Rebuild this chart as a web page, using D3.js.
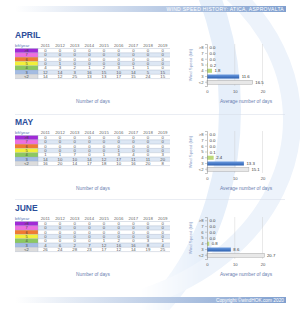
<!DOCTYPE html>
<html>
<head>
<meta charset="utf-8">
<script src="https://cdn.jsdelivr.net/npm/d3@7"></script>
<style>
  body { margin: 0; background: #fff; }
  svg { display: block; font-family: "Liberation Sans", Arial, sans-serif; }
</style>
</head>
<body>
<div id="chart"></div>
<script>
// ---- data ----
const years = ["2011", "2012", "2013", "2014", "2015", "2016", "2017", "2018", "2019"];
const bftLabels = [">8", "7", "6", "5", "4", "3", "<2"];
const bftColors = ["#a02ad6", "#ee6ee0", "#f07a32", "#f2f03a", "#8cc860", "#a4bce2", "#dcdcdc"];
const barColors = ["#a02ad6", "#ee6ee0", "#f07a32", "#e8e24a", "#bcd97a", "#3b74c4", "#e8e8e8"];
const months = ["APRIL", "MAY", "JUNE"];

// days per bft row (rows = bftLabels, columns = years)
const aprilDays = [
  [0, 0, 0, 0, 0, 0, 0, 0, 0],
  [0, 0, 0, 0, 0, 0, 0, 0, 0],
  [0, 0, 0, 0, 0, 0, 0, 0, 0],
  [0, 1, 0, 0, 0, 0, 0, 0, 0],
  [4, 3, 2, 1, 2, 3, 1, 1, 0],
  [12, 14, 3, 16, 15, 10, 14, 5, 15],
  [14, 12, 25, 13, 13, 17, 15, 24, 15]
];
const mayDays = [
  [0, 0, 0, 0, 0, 0, 0, 0, 0],
  [0, 0, 0, 0, 0, 0, 0, 0, 0],
  [0, 0, 0, 0, 0, 0, 0, 0, 0],
  [0, 0, 0, 0, 0, 1, 0, 0, 0],
  [1, 1, 7, 0, 1, 3, 4, 0, 3],
  [14, 10, 10, 14, 12, 17, 11, 11, 20],
  [16, 20, 14, 17, 18, 10, 16, 20, 8]
];
const juneDays = [
  [0, 0, 0, 0, 0, 0, 0, 0, 0],
  [0, 0, 0, 0, 0, 0, 0, 0, 0],
  [0, 0, 0, 0, 0, 0, 0, 0, 0],
  [0, 0, 0, 0, 0, 0, 0, 0, 0],
  [0, 0, 0, 0, 1, 2, 0, 3, 1],
  [4, 6, 2, 7, 12, 16, 16, 8, 4],
  [26, 24, 28, 23, 17, 12, 14, 19, 25]
];
const aprilAvg = [0.0, 0.0, 0.0, 0.2, 1.8, 11.6, 16.5];
const mayAvg = [0.0, 0.0, 0.0, 0.1, 2.4, 13.3, 15.1];
const juneAvg = [0.0, 0.0, 0.0, 0.0, 0.8, 8.6, 20.7];
const avgTicks = [0, 10, 20];

const sections = [
  {name: months[0], days: aprilDays, avg: aprilAvg},
  {name: months[1], days: mayDays, avg: mayAvg},
  {name: months[2], days: juneDays, avg: juneAvg}
];

const W = 300, H = 310;
const svg = d3.select("#chart").append("svg").attr("width", W).attr("height", H);
const defs = svg.append("defs");

// gradients
const band = defs.append("linearGradient").attr("id", "band");
band.append("stop").attr("offset", "0%").attr("stop-color", "#ffffff");
band.append("stop").attr("offset", "100%").attr("stop-color", "#7f9fcf");
const blueBar = defs.append("linearGradient").attr("id", "blueBar").attr("x2", 0).attr("y2", 1);
blueBar.append("stop").attr("offset", "0%").attr("stop-color", "#6b9be0");
blueBar.append("stop").attr("offset", "100%").attr("stop-color", "#2b5fb0");

// fade mask so the swoosh only shows on the right side
const fade = defs.append("linearGradient").attr("id", "fade")
  .attr("gradientUnits", "userSpaceOnUse").attr("x1", 140).attr("x2", 200).attr("y1", 0).attr("y2", 0);
fade.append("stop").attr("offset", "0%").attr("stop-color", "#000");
fade.append("stop").attr("offset", "100%").attr("stop-color", "#fff");
defs.append("mask").attr("id", "swooshMask")
  .append("rect").attr("width", W).attr("height", H).attr("fill", "url(#fade)");

// decorative swoosh
const swoosh = svg.append("g").attr("fill", "none").attr("mask", "url(#swooshMask)");
swoosh.append("ellipse").attr("cx", 40).attr("cy", 110).attr("rx", 190).attr("ry", 250)
  .attr("stroke", "#e6effa").attr("stroke-width", 22);
swoosh.append("ellipse").attr("cx", 60).attr("cy", 120).attr("rx", 232).attr("ry", 190)
  .attr("stroke", "#edf3fb").attr("stroke-width", 18);

// header and footer bands
svg.append("rect").attr("x", 15).attr("y", 6).attr("width", 271).attr("height", 6).attr("fill", "url(#band)");
svg.append("text").attr("x", 284).attr("y", 10.6).attr("text-anchor", "end")
  .attr("font-size", 5).attr("fill", "#fff").attr("letter-spacing", 0.3)
  .text("WIND SPEED HISTORY: ATICA, ASPROVALTA");
svg.append("rect").attr("x", 15).attr("y", 297).attr("width", 271).attr("height", 6).attr("fill", "url(#band)");
svg.append("text").attr("x", 284).attr("y", 301.6).attr("text-anchor", "end")
  .attr("font-size", 4.8).attr("fill", "#fff")
  .text("Copyright ©windHOK.com 2020");

// section separators
svg.selectAll(".sep").data([114.5, 199.5]).join("line")
  .attr("x1", 15).attr("x2", 285).attr("y1", d => d).attr("y2", d => d)
  .attr("stroke", "#d4dbe6").attr("stroke-width", 0.5);

const col = d3.scaleBand().domain(years).range([38, 170]);
const rowH = 4.3;

sections.forEach((s, si) => {
  const tb = [38, 125, 211][si];
  const g = svg.append("g");

  g.append("text").attr("x", 15).attr("y", tb).attr("font-size", 8.5).attr("font-weight", "bold")
    .attr("fill", "#2c4e9a").text(s.name);

  // table
  const row = d3.scaleBand().domain(bftLabels).range([tb + 10.5, tb + 10.5 + rowH * 7]);
  g.append("text").attr("x", 15).attr("y", tb + 9).attr("font-size", 4.3).attr("fill", "#5a78b8").text("bft/year");
  g.selectAll(".yr").data(years).join("text")
    .attr("x", d => col(d) + col.bandwidth() / 2).attr("y", tb + 9)
    .attr("text-anchor", "middle").attr("font-size", 4.3).attr("fill", "#666").text(d => d);

  g.selectAll(".rowbg").data(bftLabels).join("rect")
    .attr("x", 38).attr("y", d => row(d)).attr("width", 132).attr("height", row.bandwidth())
    .attr("fill", (d, i) => i % 2 ? "#dde7f4" : "#ffffff");
  g.selectAll(".bft").data(bftLabels).join("rect")
    .attr("x", 15).attr("y", d => row(d)).attr("width", 23).attr("height", row.bandwidth())
    .attr("fill", (d, i) => bftColors[i]);
  g.selectAll(".bftl").data(bftLabels).join("text")
    .attr("x", 26.5).attr("y", d => row(d) + row.bandwidth() / 2 + 1.5)
    .attr("text-anchor", "middle").attr("font-size", 4).attr("fill", "#444").text(d => d);
  g.selectAll(".hl").data(d3.range(8)).join("line")
    .attr("x1", 15).attr("x2", 170)
    .attr("y1", i => tb + 10.5 + i * rowH).attr("y2", i => tb + 10.5 + i * rowH)
    .attr("stroke", "#9aa8c0").attr("stroke-width", 0.35);
  g.append("line").attr("x1", 38).attr("x2", 38).attr("y1", tb + 10.5).attr("y2", tb + 10.5 + rowH * 7)
    .attr("stroke", "#9aa8c0").attr("stroke-width", 0.35);

  s.days.forEach((vals, ri) => {
    g.selectAll(".c" + ri).data(vals).join("text")
      .attr("x", (d, i) => col(years[i]) + col.bandwidth() / 2)
      .attr("y", row(bftLabels[ri]) + row.bandwidth() / 2 + 1.5)
      .attr("text-anchor", "middle").attr("font-size", 4.3).attr("fill", "#555").text(d => d);
  });

  g.append("text").attr("x", 93).attr("y", tb + 65).attr("text-anchor", "middle")
    .attr("font-size", 4.8).attr("fill", "#6a80b0").text("Number of days");

  // average bar chart
  const x = d3.scaleLinear().domain([0, 20]).range([207, 262.5]);
  const y = d3.scaleBand().domain(bftLabels).range([tb + 6, tb + 48]).padding(0.3);

  g.selectAll(".grid").data(avgTicks.slice(1)).join("line")
    .attr("x1", d => x(d)).attr("x2", d => x(d)).attr("y1", tb + 6).attr("y2", tb + 48)
    .attr("stroke", "#c8c8c8").attr("stroke-width", 0.4);

  g.selectAll(".bar").data(s.avg).join("rect")
    .attr("x", x(0)).attr("y", (d, i) => y(bftLabels[i]))
    .attr("width", d => x(d) - x(0)).attr("height", y.bandwidth())
    .attr("fill", (d, i) => i === 5 ? "url(#blueBar)" : barColors[i])
    .attr("stroke", (d, i) => i === 6 ? "#999" : "none").attr("stroke-width", 0.4);

  g.selectAll(".val").data(s.avg).join("text")
    .attr("x", d => x(d) + 2.5).attr("y", (d, i) => y(bftLabels[i]) + y.bandwidth() / 2 + 1.5)
    .attr("font-size", 4.3).attr("fill", "#333").text(d => d.toFixed(1));

  const ya = g.append("g").attr("transform", `translate(${x(0)},0)`)
    .call(d3.axisLeft(y).tickSize(2).tickPadding(1.5));
  ya.select(".domain").attr("stroke", "#888").attr("stroke-width", 0.5);
  ya.selectAll(".tick line").attr("stroke", "#888").attr("stroke-width", 0.4);
  ya.selectAll("text").attr("font-size", 4.2).attr("fill", "#555").attr("font-family", null);

  const xa = g.append("g").attr("transform", `translate(0,${tb + 48})`)
    .call(d3.axisBottom(x).tickValues(avgTicks).tickSize(0).tickPadding(4));
  xa.select(".domain").remove();
  xa.selectAll("text").attr("font-size", 4.2).attr("fill", "#555").attr("font-family", null);

  g.append("text").attr("transform", `translate(192,${tb + 27}) rotate(-90)`)
    .attr("text-anchor", "middle").attr("font-size", 4.3).attr("fill", "#8aa0c8")
    .text("Wind Speed (bft)");

  g.append("text").attr("x", 246).attr("y", tb + 65).attr("text-anchor", "middle")
    .attr("font-size", 4.8).attr("fill", "#6a80b0").text("Average number of days");
});
</script>
</body>
</html>
